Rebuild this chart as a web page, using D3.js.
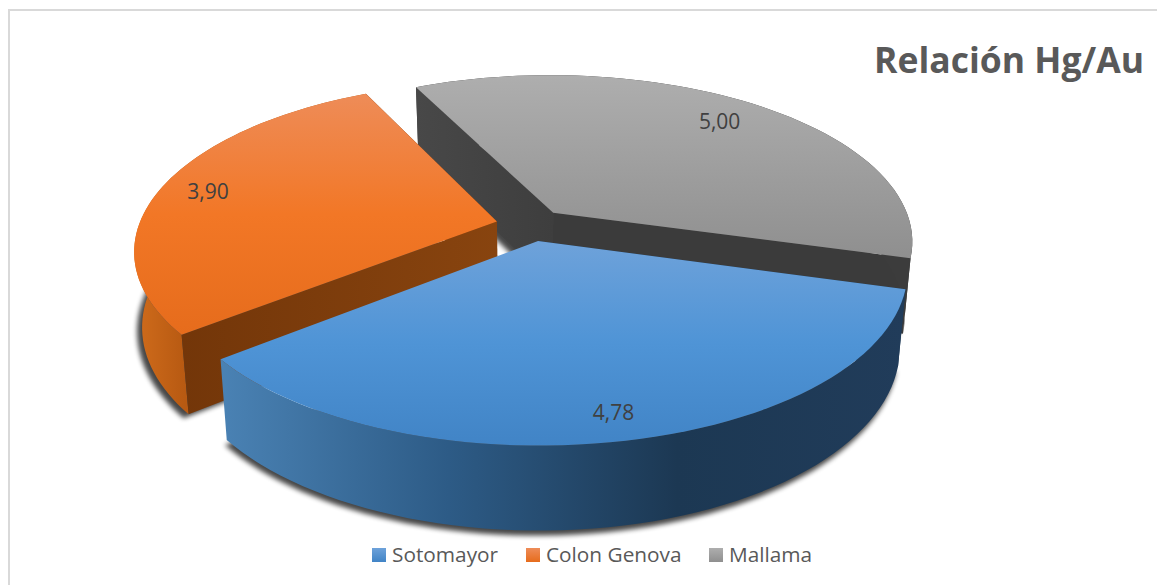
<!DOCTYPE html>
<html>
<head>
<meta charset="utf-8">
<script src="https://cdn.jsdelivr.net/npm/d3@7"></script>
<style>
html, body { margin: 0; padding: 0; background: #fff; overflow: hidden; }
svg { display: block; }
</style>
</head>
<body>
<script>
var categories = ["Sotomayor", "Colon Genova", "Mallama"];
var values = [4.78, 3.90, 5.00];
var valueLabels = ["4,78", "3,90", "5,00"];
var labelRadius = [0.88, 0.86, 0.82];
var topColors = [["#6ea2da", "#4f94d6", "#4184c6"], ["#ee8c58", "#f27726", "#e66c1c"], ["#aeaeae", "#8f8f8f"]];
var wallColors = [["#4a82b4", "#2d5b86", "#1c3853", "#213c5a"], ["#d06c1c", "#b85a12"], ["#3c3c3c", "#3c3c3c"]];
var faceColors = [["#1c3853", "#1c3853"], ["#733609", "#88440f"], ["#484848", "#3e3e3e"]];

var width = 1157, height = 585;
var cx = 531, cy = 225;          // centre of the pie before exploding
var rx = 358, ry = 164.4;        // disk radius on screen
var persp = 0.167;               // front of the disk looks bigger than the back
var explode = 0.098;
var bottomX = 0.98, bottomY = 1.05, depth = 74;
var startDeg = 105.7;

var svg = d3.select("body")
    .append("svg")
    .attr("width", width)
    .attr("height", height);

var defs = svg.append("defs");

var blur = defs.append("filter").attr("id", "shadow")
    .attr("x", "-10%").attr("y", "-10%").attr("width", "120%").attr("height", "120%");
blur.append("feGaussianBlur").attr("stdDeviation", 2.6);

function addGradient(id, colors, x1, y1, x2, y2) {
    var g = defs.append("linearGradient").attr("id", id)
        .attr("gradientUnits", "userSpaceOnUse")
        .attr("x1", x1).attr("y1", y1).attr("x2", x2).attr("y2", y2);
    colors.forEach(function (c, i) {
        g.append("stop").attr("offset", i / (colors.length - 1)).attr("stop-color", c);
    });
}

// frame
svg.append("path")
    .attr("d", "M9," + height + "V10H" + width)
    .attr("fill", "none")
    .attr("stroke", "#d9d9d9")
    .attr("stroke-width", 2);

// disk coordinates -> screen
function project(u, v, bottom) {
    var s = 1 - persp * v;
    var x = rx * u / s, y = ry * v / s;
    if (bottom) {
        x = x * bottomX;
        y = y * bottomY + depth;
    }
    return [cx + x, cy + y];
}

var pie = d3.pie()
    .sort(null)
    .startAngle(startDeg * Math.PI / 180)
    .endAngle((startDeg + 360) * Math.PI / 180);

var slices = pie(values);
var line = d3.line();

slices.forEach(function (d) {
    var mid = (d.startAngle + d.endAngle) / 2;
    d.ox = explode * Math.sin(mid);
    d.oy = -explode * Math.cos(mid);
    d.mid = mid;
    d.angles = d3.range(0, 61).map(function (i) {
        return d.startAngle + (d.endAngle - d.startAngle) * i / 60;
    });
});

function rim(d, bottom) {
    return d.angles.map(function (a) {
        return project(d.ox + Math.sin(a), d.oy - Math.cos(a), bottom);
    });
}
function apex(d, bottom) {
    return project(d.ox, d.oy, bottom);
}
function edgeX(d, a) {
    return project(d.ox + Math.sin(a), d.oy - Math.cos(a), false)[0];
}

function topPath(d) {
    return line([apex(d, false)].concat(rim(d, false))) + "Z";
}
function wallPath(d) {
    return line(rim(d, false).concat(rim(d, true).reverse())) + "Z";
}
function facePath(d, a) {
    var u = d.ox + Math.sin(a), v = d.oy - Math.cos(a);
    return line([apex(d, false), project(u, v, false), project(u, v, true), apex(d, true)]) + "Z";
}
function bottomPath(d) {
    return line([apex(d, true)].concat(rim(d, true))) + "Z";
}
function labelPos(d, i) {
    var r = labelRadius[i];
    return project(d.ox + r * Math.sin(d.mid), d.oy - r * Math.cos(d.mid), false);
}

// gradients per slice
slices.forEach(function (d, i) {
    var tops = rim(d, false).concat([apex(d, false)]);
    var ext = d3.extent(tops, function (p) { return p[1]; });
    addGradient("top" + i, topColors[i], 0, ext[0], 0, ext[1]);
    var wallExt = d3.extent(rim(d, false), function (p) { return p[0]; });
    if (i === 1) addGradient("wall" + i, wallColors[i], wallExt[0], 0, wallExt[0] + 50, 0);
    else addGradient("wall" + i, wallColors[i], wallExt[0], 0, wallExt[1], 0);
});

// draw back to front: Mallama, Colon Genova, Sotomayor
var order = [2, 1, 0];

order.forEach(function (i) {
    var d = slices[i];
    var g = svg.append("g");

    // soft shadow round the foot of the slice
    g.append("path")
        .attr("d", bottomPath(d))
        .attr("transform", i === 0 ? "translate(-2,5)" : "translate(-5,4)")
        .attr("fill", "#000")
        .attr("opacity", 0.72)
        .attr("filter", "url(#shadow)");

    if (i === 0) {
        g.append("path").attr("d", facePath(d, d.startAngle)).attr("fill", faceColors[0][0]);
    }
    if (i === 1) {
        addGradient("face1", faceColors[1], edgeX(d, d.startAngle), 0, apex(d, false)[0], 0);
        g.append("path").attr("d", facePath(d, d.endAngle)).attr("fill", faceColors[1][0]);
    }
    if (i === 2) {
        addGradient("face2", faceColors[2], edgeX(d, d.startAngle), 0, apex(d, false)[0], 0);
        g.append("path").attr("d", facePath(d, d.endAngle)).attr("fill", "#3b3b3b");
    }

    g.append("path").attr("d", wallPath(d)).attr("fill", "url(#wall" + i + ")");

    if (i > 0) {
        g.append("path").attr("d", facePath(d, d.startAngle)).attr("fill", "url(#face" + i + ")");
    }

    g.append("path").attr("d", topPath(d)).attr("fill", "url(#top" + i + ")");
});

// value labels
svg.append("g").selectAll("text")
    .data(slices)
    .join("text")
    .attr("x", function (d, i) { return labelPos(d, i)[0]; })
    .attr("y", function (d, i) { return labelPos(d, i)[1]; })
    .attr("dy", "0.35em")
    .attr("text-anchor", "middle")
    .attr("font-family", "'Open Sans', sans-serif")
    .attr("font-size", 21)
    .attr("fill", "#404040")
    .text(function (d, i) { return valueLabels[i]; });

// title
svg.append("text")
    .attr("x", 1144)
    .attr("y", 73)
    .attr("text-anchor", "end")
    .attr("font-family", "'Open Sans', sans-serif")
    .attr("font-weight", 700)
    .attr("font-size", 35.5)
    .attr("fill", "#595959")
    .text("Relación Hg/Au");

// legend
var legendX = d3.scaleOrdinal().domain(categories).range([372, 526, 709]);
var legend = svg.append("g").selectAll("g")
    .data(categories)
    .join("g")
    .attr("transform", function (d) { return "translate(" + legendX(d) + ",548)"; });

legend.each(function (d, i) {
    var last = topColors[i][topColors[i].length - 1];
    addGradient("key" + i, [topColors[i][0], last], 0, 0, 0, 14);
});

legend.append("rect")
    .attr("width", 14)
    .attr("height", 14)
    .attr("fill", function (d, i) { return "url(#key" + i + ")"; });

legend.append("text")
    .attr("x", 20)
    .attr("y", 14)
    .attr("font-family", "'Open Sans', sans-serif")
    .attr("font-size", 20.8)
    .attr("fill", "#595959")
    .text(function (d) { return d; });
</script>
</body>
</html>
